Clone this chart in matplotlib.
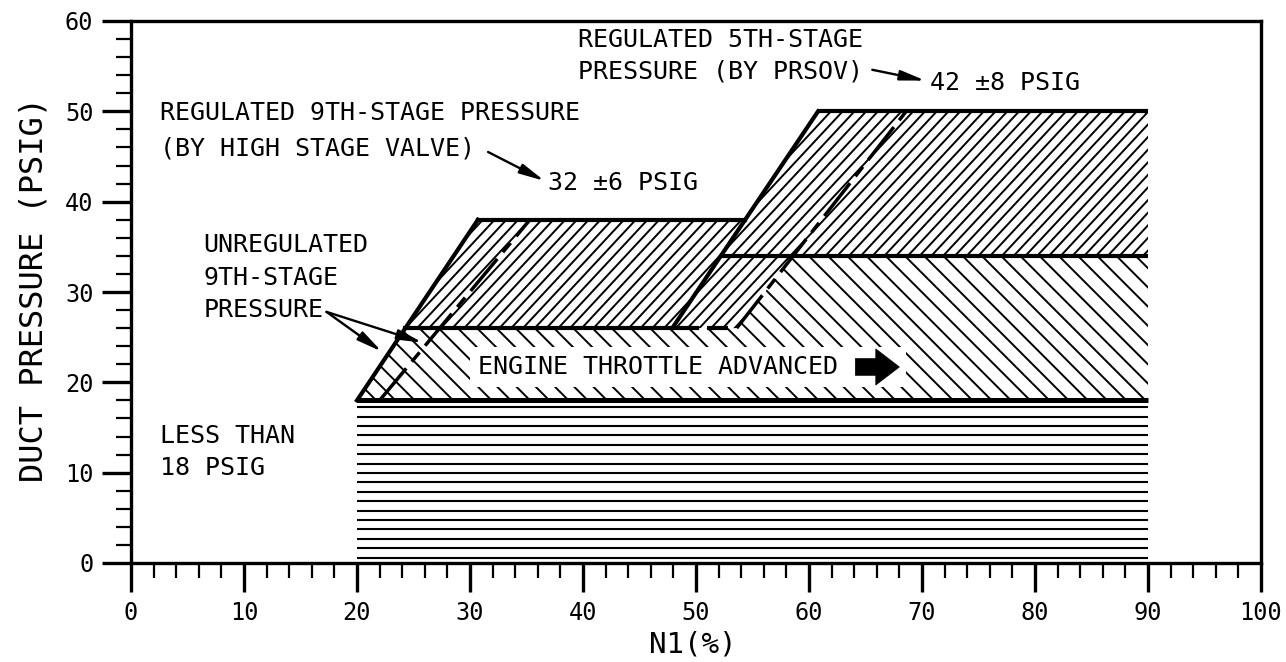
import matplotlib
matplotlib.use('Agg')
import matplotlib.pyplot as plt
import numpy as np
from matplotlib.patches import Polygon
from matplotlib.collections import LineCollection
from matplotlib.ticker import MultipleLocator

plt.rcParams['font.family'] = ['DejaVu Sans Mono', 'DejaVu Sans']

# ---------------- data (N1 %, duct pressure psig) ----------------
x_ticks = list(range(0, 101, 10))
y_ticks = list(range(0, 61, 10))

n1_start = 20.0
n1_end = 90.0
low_limit = 18.0          # less than 18 psig
unreg_top = 26.0          # unregulated 9th-stage upper level
reg9_low, reg9_high = 26.0, 38.0   # 32 +/- 6
reg5_low, reg5_high = 34.0, 50.0   # 42 +/- 8

# slanted boundaries: N1 values at given pressures
reg9_edge_n1 = [20.0, 30.7]
reg9_edge_p = [18.0, 38.0]
reg9_dash_n1 = [22.0, 35.3]
reg9_dash_p = [18.0, 38.0]
reg5_edge_n1 = [47.9, 60.8]
reg5_edge_p = [26.0, 50.0]
reg5_dash_n1 = [53.6, 68.6]
reg5_dash_p = [26.0, 50.0]

# extra dashed piece of the 26 psig line
unreg_top_end = 50.1
unreg_top_piece = [51.0, 52.8]


def n1_at(n1s, ps, p):
    return float(np.interp(p, ps, n1s))


# ---------------- figure ----------------
fig = plt.figure(figsize=(12.86, 6.62), dpi=100)
ax = fig.add_axes([131 / 1286, 99 / 662, 1130 / 1286, 542 / 662])
ax.set_xlim(0, 100)
ax.set_ylim(0, 60)
ax.set_autoscale_on(False)


def hatch(verts, angle, spacing, lw, phase=0.0):
    verts = np.asarray(verts, float)
    disp = ax.transData.transform(verts)
    a = np.deg2rad(angle)
    d = np.array([np.cos(a), np.sin(a)])
    n = np.array([-np.sin(a), np.cos(a)])
    c = disp @ n
    t = disp @ d
    ref = disp[0] @ n + phase
    kmin = int(np.floor((c.min() - ref) / spacing)) - 1
    kmax = int(np.ceil((c.max() - ref) / spacing)) + 1
    segs = []
    for k in range(kmin, kmax + 1):
        off = ref + k * spacing
        segs.append([off * n + (t.min() - 10) * d, off * n + (t.max() + 10) * d])
    segs = np.array(segs)
    data = ax.transData.inverted().transform(segs.reshape(-1, 2)).reshape(-1, 2, 2)
    poly = Polygon(verts, closed=True, facecolor='none', edgecolor='none')
    ax.add_patch(poly)
    lc = LineCollection(data, colors='k', linewidths=lw, zorder=2)
    ax.add_collection(lc, autolim=False)
    lc.set_clip_path(poly)


x9e26 = n1_at(reg9_edge_n1, reg9_edge_p, unreg_top)
x5e34 = n1_at(reg5_edge_n1, reg5_edge_p, reg5_low)
x5e38 = n1_at(reg5_edge_n1, reg5_edge_p, reg9_high)
x5d34 = n1_at(reg5_dash_n1, reg5_dash_p, reg5_low)

# horizontal-line region (less than 18 psig)
hatch([(n1_start, 0), (n1_end, 0), (n1_end, low_limit), (n1_start, low_limit)],
      0, 9.4, 1.5, phase=5.5)
# back-hatched region (unregulated)
hatch([(n1_start, low_limit), (n1_end, low_limit), (n1_end, reg5_low),
       (x5d34, reg5_low), (reg5_dash_n1[0], unreg_top), (x9e26, unreg_top)],
      -45, 13.6, 1.4)
# forward-hatched region (regulated 9th + 5th)
hatch([(x9e26, reg9_low), (reg9_edge_n1[1], reg9_high), (x5e38, reg9_high),
       (reg5_edge_n1[1], reg5_high), (n1_end, reg5_high), (n1_end, reg5_low),
       (x5d34, reg5_low), (reg5_dash_n1[0], reg9_low)],
      47, 8.6, 1.4)

# ---------------- boundary lines ----------------
blw = 3.0
ax.plot([n1_start, n1_end], [low_limit, low_limit], color='k', lw=3.6, zorder=4,
        solid_capstyle='butt')
ax.plot([x9e26, unreg_top_end], [unreg_top, unreg_top], color='k', lw=blw, zorder=4)
ax.plot(unreg_top_piece, [unreg_top, unreg_top], color='k', lw=blw, zorder=4,
        solid_capstyle='butt')
ax.plot([reg9_edge_n1[1], x5e38], [reg9_high, reg9_high], color='k', lw=blw, zorder=4)
ax.plot([x5e34, n1_end], [reg5_low, reg5_low], color='k', lw=blw, zorder=4,
        solid_capstyle='butt')
ax.plot([reg5_edge_n1[1], n1_end], [reg5_high, reg5_high], color='k', lw=blw, zorder=4,
        solid_capstyle='butt')
ax.plot(reg9_edge_n1, reg9_edge_p, color='k', lw=blw, zorder=4)
ax.plot(reg5_edge_n1, reg5_edge_p, color='k', lw=blw, zorder=4)
ax.plot(reg9_dash_n1, reg9_dash_p, color='k', lw=2.5, zorder=4,
        dashes=(12, 2.5, 3.5, 2.5), dash_capstyle='butt')
ax.plot(reg5_dash_n1, reg5_dash_p, color='k', lw=2.5, zorder=4,
        dashes=(12, 2.5, 3.5, 2.5), dash_capstyle='butt')

# ---------------- annotations ----------------
fs = 18
arr = dict(arrowstyle='-|>,head_length=1.0,head_width=0.2', color='k', lw=1.7,
           shrinkA=0, shrinkB=0, mutation_scale=15)

ax.text(2.6, 49.8, 'REGULATED 9TH-STAGE PRESSURE', fontsize=fs, va='center', ha='left')
ax.text(2.6, 45.9, '(BY HIGH STAGE VALVE)', fontsize=fs, va='center', ha='left')
ax.annotate('', xy=(36.6, 42.3), xytext=(31.6, 45.5), arrowprops=arr)
ax.text(36.9, 42.1, '32 \u00b16 PSIG', fontsize=fs, va='center', ha='left')

ax.text(39.6, 57.9, 'REGULATED 5TH-STAGE', fontsize=fs, va='center', ha='left')
ax.text(39.6, 54.4, 'PRESSURE (BY PRSOV)', fontsize=fs, va='center', ha='left')
ax.annotate('', xy=(70.3, 53.4), xytext=(65.6, 54.6), arrowprops=arr)
ax.text(70.7, 53.1, '42 \u00b18 PSIG', fontsize=fs, va='center', ha='left')

ax.text(6.4, 35.2, 'UNREGULATED', fontsize=fs, va='center', ha='left')
ax.text(6.4, 31.6, '9TH-STAGE', fontsize=fs, va='center', ha='left')
ax.text(6.4, 28.0, 'PRESSURE', fontsize=fs, va='center', ha='left')
ax.annotate('', xy=(22.2, 23.4), xytext=(17.3, 27.8), arrowprops=arr)
ax.annotate('', xy=(25.8, 24.4), xytext=(17.3, 27.8), arrowprops=arr)

ax.text(2.6, 14.1, 'LESS THAN', fontsize=fs, va='center', ha='left')
ax.text(2.6, 10.5, '18 PSIG', fontsize=fs, va='center', ha='left')

ax.text(30.7, 21.7, 'ENGINE THROTTLE ADVANCED    ', fontsize=fs, va='center', ha='left',
        zorder=5, bbox=dict(facecolor='white', edgecolor='none', pad=6))
ax.annotate('', xy=(68.0, 21.7), xytext=(64.1, 21.7), zorder=6,
            arrowprops=dict(arrowstyle='simple,head_length=0.85,head_width=1.3,tail_width=0.6',
                            fc='k', ec='k', lw=0.5, shrinkA=0, shrinkB=0, mutation_scale=20))

# ---------------- axes ----------------
ax.set_xticks(x_ticks)
ax.set_yticks(y_ticks)
ax.xaxis.set_minor_locator(MultipleLocator(2))
ax.yaxis.set_minor_locator(MultipleLocator(2))
ax.tick_params(which='major', length=21, width=2.4, direction='out', labelsize=17, pad=6)
ax.tick_params(which='minor', length=11, width=1.6, direction='out')
ax.tick_params(top=False, right=False, which='both')
for s in ax.spines.values():
    s.set_linewidth(2.4)

ax.set_xlabel('N1(%)', fontsize=21)
ax.set_ylabel('DUCT PRESSURE (PSIG)', fontsize=23)
ax.xaxis.set_label_coords(0.497, -0.125)
ax.yaxis.set_label_coords(-0.072, 0.505)

fig.savefig('out.png', dpi=100)
